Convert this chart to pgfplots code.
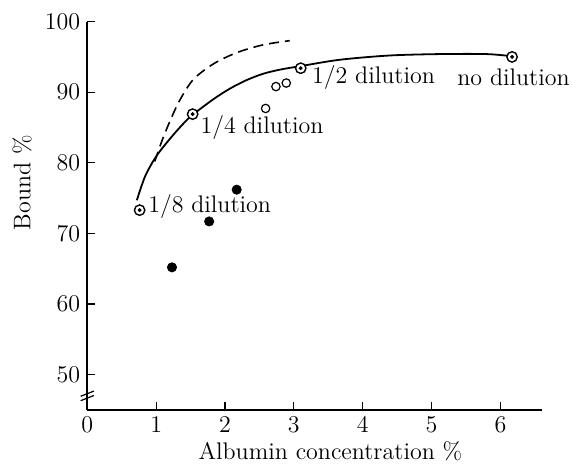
\documentclass[border=0pt]{standalone}
\usepackage{pgfplots}
\pgfplotsset{compat=1.18}
\begin{document}
\begin{tikzpicture}
\useasboundingbox (-43.65pt,-27.5pt) rectangle (245.85pt,205pt);
\begin{axis}[
 at={(0,0)}, anchor=south west,
 scale only axis, width=227.2pt, height=194.2pt,
 xmin=0, xmax=6.6, ymin=45, ymax=100,
 axis lines*=left,
 axis line style={line width=0.8pt},
 tick align=inside, major tick length=4pt,
 tick style={line width=0.6pt, black},
 xtick={0,1,2,3,4,5,6}, ytick={50,60,70,80,90,100},
 ticklabel style={font=\large},
 label style={font=\large},
 xlabel={Albumin concentration \%},
 ylabel={Bound \%},
 xlabel style={at={(axis description cs:0.535,-0.107)}, anchor=center},
 ylabel style={at={(axis description cs:-0.1435,0.585)}, anchor=center},
 clip=false,
]
% solid curve
\addplot[black, line width=0.9pt, smooth] coordinates {
 (0.72,74.7) (0.84,78.1) (1.0,80.9) (1.2,83.4) (1.39,85.5) (1.53,86.8) (1.83,89.0) (2.07,90.5) (2.31,91.7) (2.55,92.6) (2.80,93.2) (3.10,93.7) (3.67,94.6) (4.39,95.2) (5.12,95.4) (5.8,95.4) (6.16,95.1)
};
% dashed curve
\addplot[black, line width=0.8pt, dash pattern=on 5pt off 3pt, smooth] coordinates {
 (0.98,80.2) (1.08,83.0) (1.20,85.9) (1.345,88.9) (1.54,91.8) (1.83,94.0) (2.17,95.6) (2.55,96.7) (2.94,97.3)
};
% circled dots
\addplot[only marks, mark=*, mark size=2.6pt, mark options={fill=white, draw=black, line width=0.7pt}] coordinates {
 (0.76,73.3) (1.53,86.9) (3.10,93.4) (6.17,95.0)
};
\addplot[only marks, mark=*, mark size=0.75pt, black] coordinates {
 (0.76,73.3) (1.53,86.9) (3.10,93.4) (6.17,95.0)
};
% open circles
\addplot[only marks, mark=o, mark size=2.1pt, mark options={line width=0.6pt, black}] coordinates {
 (2.59,87.7) (2.74,90.8) (2.89,91.3)
};
% filled dots
\addplot[only marks, mark=*, mark size=2.3pt, black] coordinates {
 (1.23,65.2) (1.77,71.7) (2.17,76.2)
};
\node[anchor=base west, font=\large, inner sep=0pt] at (axis cs:0.88,73.0) {1/8 dilution};
\node[anchor=base west, font=\large, inner sep=0pt] at (axis cs:1.64,84.2) {1/4 dilution};
\node[anchor=base west, font=\large, inner sep=0pt] at (axis cs:3.26,91.3) {1/2 dilution};
\node[anchor=base west, font=\large, inner sep=0pt] at (axis cs:5.37,91.0) {no dilution};
% axis break
\draw[line width=0.6pt] ([xshift=-3.3pt,yshift=-2.4pt]axis cs:0,47.0) -- ++(6.6pt,2.6pt);
\draw[line width=0.6pt] ([xshift=-3.3pt,yshift=-0.2pt]axis cs:0,47.0) -- ++(6.6pt,2.6pt);
\end{axis}
\end{tikzpicture}
\end{document}
